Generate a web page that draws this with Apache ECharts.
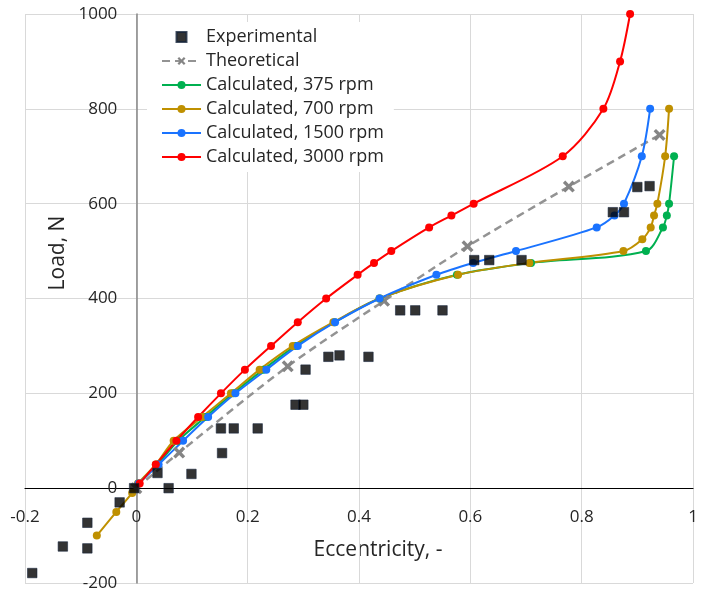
<!DOCTYPE html>
<html><head><meta charset="utf-8">
<script src="https://cdn.jsdelivr.net/npm/echarts@6/dist/echarts.min.js"></script>
<style>html,body{margin:0;padding:0;background:#fff}#c{width:709px;height:593px}</style>
</head><body><div id="c"></div>
<script>
// ---- data ----
const xTicks = [-0.2, 0, 0.2, 0.4, 0.6, 0.8, 1];
const yTicks = [-200, 0, 200, 400, 600, 800, 1000];

const expEcc  = [-0.187,-0.132,-0.088,-0.088,-0.030,-0.004,0.038,0.058,0.099,0.152,0.154,0.175,0.218,0.286,0.300,0.304,0.345,0.365,0.417,0.474,0.501,0.550,0.607,0.634,0.692,0.856,0.876,0.900,0.922];
const expLoad = [-179,-123,-73,-127,-30,0,32,0,30,126,74,126,126,176,176,250,277,280,277,375,375,375,481,481,481,582,582,635,637];

const theoEcc  = [0, 0.077, 0.272, 0.445, 0.595, 0.777, 0.940];
const theoLoad = [0, 75, 257, 395, 510, 636, 745];

const g375Load = [10,50,100,150,200,250,300,350,400,450,475,500,550,575,600,700];
const g375Ecc  = [0.004,0.038,0.075,0.124,0.174,0.228,0.286,0.356,0.437,0.576,0.709,0.9155,0.946,0.953,0.957,0.966];

const g700Load = [-100,-50,-10,10,50,100,150,200,250,300,350,400,450,475,500,525,550,575,600,700,800];
const g700Ecc  = [-0.071,-0.036,-0.0075,0.003,0.035,0.067,0.118,0.170,0.2215,0.281,0.354,0.437,0.578,0.706,0.875,0.909,0.924,0.930,0.936,0.950,0.957];

const g1500Load = [10,50,100,150,200,250,300,350,400,450,475,500,550,575,600,700,800];
const g1500Ecc  = [0.004,0.040,0.084,0.129,0.178,0.2335,0.290,0.357,0.437,0.539,0.605,0.682,0.827,0.859,0.876,0.908,0.923];

const g3000Load = [10,50,100,150,200,250,300,350,400,450,475,500,550,575,600,700,800,900,1000];
const g3000Ecc  = [0.006,0.035,0.072,0.111,0.152,0.195,0.242,0.290,0.341,0.3975,0.427,0.458,0.526,0.566,0.606,0.766,0.839,0.869,0.887];

const names = ['Experimental','Theoretical','Calculated, 375 rpm','Calculated, 700 rpm','Calculated, 1500 rpm','Calculated, 3000 rpm'];

// ---- build ----
const pairs = (xs, ys) => xs.map((x, i) => [x, ys[i]]);
const FONT = "'Open Sans', sans-serif";
const TXT = '#262626';
const xPath = 'path://M2,0L5,3L8,0L10,2L7,5L10,8L8,10L5,7L2,10L0,8L3,5L0,2Z';

const W = 709, H = 593;
const G = { left: 25, right: 16, top: 14, bottom: 10 };
const plotW = W - G.left - G.right, plotH = H - G.top - G.bottom;
const xMin = xTicks[0], xMax = xTicks[xTicks.length - 1];
const yMin = yTicks[0], yMax = yTicks[yTicks.length - 1];
// axes cross at zero: shift each axis from the grid edge to the other axis' zero
const yAxisOffset = -plotW * (0 - xMin) / (xMax - xMin);
const xAxisOffset = -plotH * (0 - yMin) / (yMax - yMin);

function calc(name, color, xs, ys) {
  return {
    name, type: 'line', data: pairs(xs, ys), smooth: 0.3,
    symbol: 'circle', symbolSize: 8, showAllSymbol: true,
    lineStyle: { color, width: 2 }, itemStyle: { color }
  };
}

const chart = echarts.init(document.getElementById('c'), null, { renderer: 'canvas' });
chart.setOption({
  animation: false,
  backgroundColor: '#fff',
  grid: Object.assign({ containLabel: false, outerBoundsMode: 'none' }, G),
  xAxis: {
    type: 'value', min: xMin, max: xMax, interval: 0.2,
    position: 'bottom', offset: xAxisOffset,
    axisLine: { onZero: false, lineStyle: { color: '#000', width: 1.2 } },
    axisTick: { show: false },
    axisLabel: { margin: 20, fontSize: 17, fontFamily: FONT, color: TXT, formatter: v => String(+v.toFixed(2)) },
    splitLine: { show: true, lineStyle: { color: '#d9d9d9', width: 1 } }
  },
  yAxis: {
    type: 'value', min: yMin, max: yMax, interval: 200,
    position: 'left', offset: yAxisOffset,
    axisLine: { show: true, onZero: false, lineStyle: { color: '#868686', width: 1.5 } },
    axisTick: { show: false },
    axisLabel: { margin: 19, fontSize: 17, fontFamily: FONT, color: TXT, formatter: v => String(v) },
    splitLine: { show: true, lineStyle: { color: '#d9d9d9', width: 1 } }
  },
  legend: {
    orient: 'vertical', left: 147, top: 22,
    padding: [6, 10, 6, 14],
    backgroundColor: '#fff',
    itemWidth: 39, itemHeight: 10, itemGap: 6,
    textStyle: { fontSize: 18, fontFamily: FONT, color: TXT },
    data: [
      { name: names[0], icon: 'path://M1,1H9V9H1Z' },
      names[1], names[2], names[3], names[4], names[5]
    ]
  },
  graphic: [
    { type: 'text', x: 378, y: 550,
      style: { text: 'Eccentricity, -', fontSize: 21, fontFamily: FONT, fill: TXT, textAlign: 'center', textVerticalAlign: 'middle' } },
    { type: 'text', x: 58, y: 253, rotation: Math.PI / 2,
      style: { text: 'Load, N', fontSize: 21, fontFamily: FONT, fill: TXT, textAlign: 'center', textVerticalAlign: 'middle' } }
  ],
  series: [
    {
      name: names[1], type: 'line', data: pairs(theoEcc, theoLoad), smooth: 0.3,
      symbol: xPath, symbolSize: 12,
      lineStyle: { color: '#939393', width: 2.5, type: [8, 5] },
      itemStyle: { color: '#858585' }
    },
    calc(names[2], '#00b050', g375Ecc, g375Load),
    calc(names[3], '#bf9000', g700Ecc, g700Load),
    calc(names[4], '#1a73ff', g1500Ecc, g1500Load),
    calc(names[5], '#ff0000', g3000Ecc, g3000Load),
    {
      name: names[0], type: 'scatter', data: pairs(expEcc, expLoad),
      symbol: 'rect', symbolSize: 9.5, z: 5,
      itemStyle: { color: '#000', borderColor: '#14233a', borderWidth: 0.7 }
    }
  ]
});
</script>
</body></html>
